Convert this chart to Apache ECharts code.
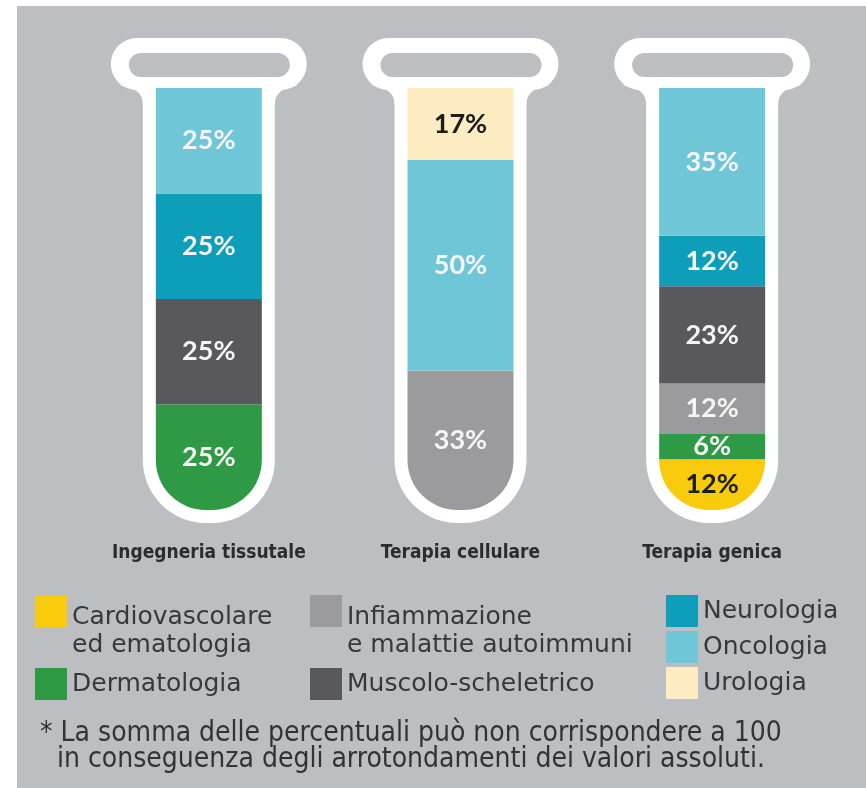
<!DOCTYPE html>
<html><head><meta charset="utf-8">
<script src="https://cdn.jsdelivr.net/npm/echarts@6/dist/echarts.min.js"></script>
<style>
html,body{margin:0;padding:0;background:#ffffff;}
#c{position:absolute;left:17px;top:6px;width:849px;height:782px;}
</style></head><body><div id="c"></div>
<script>
// ---- data ----
const categories = ['Ingegneria tissutale', 'Terapia cellulare', 'Terapia genica'];
const seriesNames = ['Cardiovascolare ed ematologia', 'Dermatologia', 'Infiammazione e malattie autoimmuni', 'Muscolo-scheletrico', 'Neurologia', 'Oncologia', 'Urologia'];
const legendLines = [['Cardiovascolare', 'ed ematologia'], ['Dermatologia'], ['Infiammazione', 'e malattie autoimmuni'], ['Muscolo-scheletrico'], ['Neurologia'], ['Oncologia'], ['Urologia']];
const cardiovascolare = ['-', '-', 12];
const dermatologia = [25, '-', 6];
const infiammazione = ['-', 33, 12];
const muscolo = [25, '-', 23];
const neurologia = [25, '-', 12];
const oncologia = [25, 50, 35];
const urologia = ['-', 17, '-'];
const footnote1 = '* La somma delle percentuali può non corrispondere a 100';
const footnote2 = 'in conseguenza degli arrotondamenti dei valori assoluti.';
const axisMax = 100;

// ---- style ----
const seriesValues = [cardiovascolare, dermatologia, infiammazione, muscolo, neurologia, oncologia, urologia];
const colors = ['#f8cb0c', '#2f9a45', '#9b9b9d', '#59595b', '#0d9fb9', '#6ec6d7', '#fdebc1'];
const labelColors = ['#1c1c1c', '#f5f5f5', '#f5f5f5', '#f5f5f5', '#f5f5f5', '#f5f5f5', '#1c1c1c'];
const BG = '#bdbec1';
const BAR_W = 106, T = 13, RB = 50;
const narrow = '"Liberation Sans Narrow", "DejaVu Sans Condensed", "Arial Narrow", sans-serif';
const legendFont = '"DejaVu Sans", sans-serif';
const LEG_FS = 25, LEG_LH = 28, LEG_COLOR = '#38383a';

// lowest non-empty series for each category gets the rounded bottom
const bottomIdx = categories.map((c, ci) => seriesValues.findIndex(v => v[ci] !== '-'));

function renderTube(params, api) {
  const i = api.value(0);
  const top = api.coord([i, axisMax]);
  const bot = api.coord([i, 0]);
  const cx = top[0], yT = top[1], yB = bot[1];
  const L = cx - BAR_W / 2 - T, R = cx + BAR_W / 2 + T;
  const lipW = 196, lipH = 52, lipTop = yT - 50, lipBot = lipTop + lipH;
  const white = { fill: '#ffffff' };
  return {
    type: 'group',
    children: [
      { type: 'rect', shape: { x: L, y: lipTop + 20, width: R - L, height: yB + T - (lipTop + 20), r: [0, 0, RB + T, RB + T] }, style: white },
      { type: 'rect', shape: { x: cx - lipW / 2, y: lipTop, width: lipW, height: lipH, r: 26 }, style: white },
      { type: 'path', shape: { pathData: `M${L} ${lipBot + 14} Q${L} ${lipBot - 2} ${L - 24} ${lipBot - 5} L${L + 4} ${lipBot - 5} L${L + 4} ${lipBot + 14} Z` }, style: white },
      { type: 'path', shape: { pathData: `M${R} ${lipBot + 14} Q${R} ${lipBot - 2} ${R + 24} ${lipBot - 5} L${R - 4} ${lipBot - 5} L${R - 4} ${lipBot + 14} Z` }, style: white },
      { type: 'rect', shape: { x: cx - 80, y: lipTop + 15, width: 161, height: 24, r: 12 }, style: { fill: BG } }
    ]
  };
}

const barSeries = seriesNames.map((name, si) => ({
  name,
  type: 'bar',
  stack: 'total',
  barWidth: BAR_W,
  z: 3,
  itemStyle: { color: colors[si] },
  label: {
    show: true, position: 'inside', formatter: '{c}%',
    fontFamily: 'Lato, "Open Sans", sans-serif', fontWeight: 'bold', fontSize: 27,
    color: labelColors[si]
  },
  data: seriesValues[si].map((v, ci) => bottomIdx[ci] === si ? { value: v, itemStyle: { borderRadius: [0, 0, RB, RB] } } : v)
}));

const legendCommon = {
  icon: 'rect', itemWidth: 32, itemHeight: 32, padding: 0, selectedMode: false,
  formatter: n => {
    const lines = legendLines[seriesNames.indexOf(n)];
    if (lines.length === 1) return lines[0];
    return '{s| }\n' + lines.map(l => '{t|' + l + '}').join('\n');
  },
  textStyle: {
    fontFamily: legendFont, fontSize: LEG_FS, color: LEG_COLOR, lineHeight: LEG_LH,
    rich: {
      s: { fontFamily: legendFont, fontSize: LEG_FS, lineHeight: 40, color: LEG_COLOR },
      t: { fontFamily: legendFont, fontSize: LEG_FS, lineHeight: LEG_LH, color: LEG_COLOR }
    }
  }
};

const chart = echarts.init(document.getElementById('c'));
chart.setOption({
  backgroundColor: BG,
  animation: false,
  title: [
    { text: footnote1, left: 23, top: 714, padding: 0, textStyle: { fontFamily: narrow, fontSize: 28, fontWeight: 'normal', color: '#333335' } },
    { text: footnote2, left: 40, top: 740, padding: 0, textStyle: { fontFamily: narrow, fontSize: 28, fontWeight: 'normal', color: '#333335' } }
  ],
  grid: { left: 66, right: 28, top: 82, bottom: 278 },
  xAxis: {
    type: 'category', data: categories,
    axisLine: { show: false }, axisTick: { show: false },
    axisLabel: { interval: 0, margin: 34, fontFamily: narrow, fontSize: 19, fontWeight: 'bold', color: '#2c2c2e' }
  },
  yAxis: { type: 'value', min: 0, max: axisMax, show: false },
  legend: [
    Object.assign({}, legendCommon, { data: [seriesNames[0]], left: 18, top: 557 }),
    Object.assign({}, legendCommon, { data: [seriesNames[1]], left: 18, top: 662 }),
    Object.assign({}, legendCommon, { data: [seriesNames[2]], left: 293, top: 557 }),
    Object.assign({}, legendCommon, { data: [seriesNames[3]], left: 293, top: 662 }),
    Object.assign({}, legendCommon, { data: seriesNames.slice(4), left: 649, top: 589, orient: 'vertical', itemGap: 4 })
  ],
  series: [
    {
      type: 'custom', z: 1, silent: true,
      renderItem: renderTube,
      data: categories.map((c, i) => [i, axisMax])
    }
  ].concat(barSeries)
});
</script></body></html>
